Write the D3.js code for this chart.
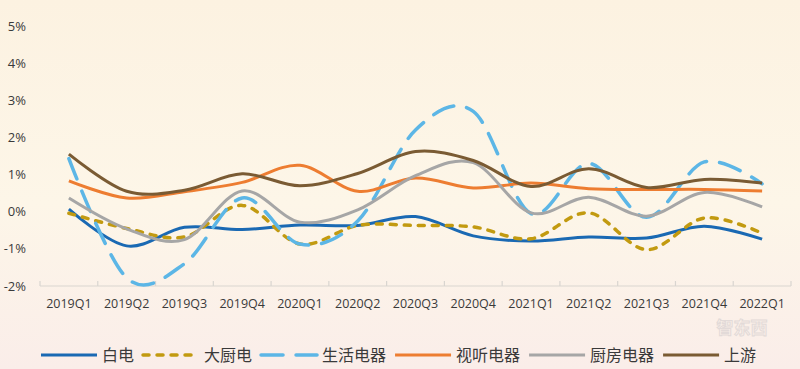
<!DOCTYPE html>
<html>
<head>
<meta charset="utf-8">
<script src="https://cdn.jsdelivr.net/npm/d3@7"></script>
<style>
    html, body { margin: 0; padding: 0; }
    svg { display: block; }
</style>
</head>
<body>
<svg id="chart" width="800" height="369"></svg>
<script>
const quarters = ["2019Q1", "2019Q2", "2019Q3", "2019Q4", "2020Q1", "2020Q2", "2020Q3",
    "2020Q4", "2021Q1", "2021Q2", "2021Q3", "2021Q4", "2022Q1"];

// values in %
const baidian = [0.07, -0.92, -0.42, -0.48, -0.36, -0.37, -0.13, -0.65, -0.79, -0.68, -0.71, -0.39, -0.74];
const dachudian = [-0.04, -0.45, -0.68, 0.17, -0.87, -0.37, -0.37, -0.41, -0.73, -0.03, -1.02, -0.17, -0.58];
const shenghuo = [1.43, -1.78, -1.4, 0.37, -0.87, -0.25, 2.2, 2.7, -0.05, 1.3, -0.15, 1.34, 0.75];
const shiting = [0.83, 0.37, 0.54, 0.79, 1.25, 0.55, 0.91, 0.64, 0.77, 0.62, 0.6, 0.6, 0.56];
const chufang = [0.37, -0.46, -0.75, 0.56, -0.28, 0.05, 0.97, 1.32, -0.03, 0.39, -0.12, 0.52, 0.13];
const shangyou = [1.55, 0.55, 0.58, 1.02, 0.7, 1.03, 1.62, 1.38, 0.68, 1.16, 0.65, 0.87, 0.77];

const seriesNames = ["白电", "大厨电", "生活电器", "视听电器", "厨房电器", "上游"];
const yTicks = [-2, -1, 0, 1, 2, 3, 4, 5];

const styles = [
    { color: "#1a69b3", width: 3, dash: null },
    { color: "#c29a10", width: 3.5, dash: "6,8" },
    { color: "#5cb6e6", width: 3.5, dash: "22,13" },
    { color: "#ed7d31", width: 3, dash: null },
    { color: "#a6a6a6", width: 3, dash: null },
    { color: "#7a5b33", width: 3, dash: null }
];

const allSeries = [baidian, dachudian, shenghuo, shiting, chufang, shangyou];

const svg = d3.select("#chart");

// background
const defs = svg.append("defs");
const grad = defs.append("linearGradient")
    .attr("id", "bg")
    .attr("x1", 0).attr("y1", 0).attr("x2", 0).attr("y2", 1);
grad.append("stop").attr("offset", "0%").attr("stop-color", "#fcf2e1");
grad.append("stop").attr("offset", "55%").attr("stop-color", "#fdf6e8");
grad.append("stop").attr("offset", "100%").attr("stop-color", "#faede9");
svg.append("rect").attr("width", 800).attr("height", 369).attr("fill", "url(#bg)");

const x = d3.scaleBand()
    .domain(quarters)
    .range([40, 791]);

const y = d3.scaleLinear()
    .domain([-2, 5])
    .range([286, 26]);

// x axis
const xAxis = svg.append("g")
    .attr("transform", `translate(0,${y(-2)})`);
xAxis.append("line")
    .attr("x1", x.range()[0]).attr("x2", x.range()[1])
    .attr("stroke", "#d9d5d0").attr("stroke-width", 1.2);
xAxis.selectAll(".tick")
    .data(quarters.concat(["end"]))
    .enter()
    .append("line")
    .attr("x1", (d, i) => x.range()[0] + i * x.bandwidth())
    .attr("x2", (d, i) => x.range()[0] + i * x.bandwidth())
    .attr("y1", 0).attr("y2", -5)
    .attr("stroke", "#d9d5d0").attr("stroke-width", 1.2);
xAxis.selectAll(".lab")
    .data(quarters)
    .enter()
    .append("text")
    .attr("x", (d) => x(d) + x.bandwidth() / 2)
    .attr("y", 22)
    .attr("text-anchor", "middle")
    .attr("font-family", "Open Sans, sans-serif")
    .attr("font-size", "12.5px")
    .attr("fill", "#3a3a3a")
    .text((d) => d);

// y labels
svg.append("g").selectAll("text")
    .data(yTicks)
    .enter()
    .append("text")
    .attr("x", 26)
    .attr("y", (d) => y(d))
    .attr("dy", "0.35em")
    .attr("text-anchor", "end")
    .attr("font-family", "Open Sans, sans-serif")
    .attr("font-size", "13px")
    .attr("fill", "#3a3a3a")
    .text((d) => d + "%");

// lines
const line = d3.line()
    .x((d, i) => x(quarters[i]) + x.bandwidth() / 2)
    .y((d) => y(d))
    .curve(d3.curveCardinal.tension(0));

const chart = svg.append("g");
allSeries.forEach((values, k) => {
    const st = styles[k];
    chart.append("path")
        .datum(values)
        .attr("d", line)
        .attr("fill", "none")
        .attr("stroke", st.color)
        .attr("stroke-width", st.width)
        .attr("stroke-linecap", st.dash ? "round" : "butt")
        .attr("stroke-dasharray", st.dash);
});

// watermark
svg.append("text")
    .attr("x", 742).attr("y", 334)
    .attr("text-anchor", "middle")
    .attr("font-family", "Noto Sans CJK SC, sans-serif")
    .attr("font-size", "17px")
    .attr("font-weight", "bold")
    .attr("fill", "none")
    .attr("stroke", "#e2dad8")
    .attr("stroke-width", 1)
    .text("智东西");

// legend
const legend = svg.append("g").attr("transform", "translate(0,355)");
let lx = 41;
seriesNames.forEach((name, k) => {
    const st = styles[k];
    const item = legend.append("g");
    item.append("line")
        .attr("x1", lx).attr("x2", lx + 56)
        .attr("y1", 0).attr("y2", 0)
        .attr("stroke", st.color)
        .attr("stroke-width", st.width)
        .attr("stroke-linecap", st.dash ? "round" : "butt")
        .attr("stroke-dasharray", st.dash);
    const t = item.append("text")
        .attr("x", lx + 61)
        .attr("y", 0)
        .attr("dy", "0.36em")
        .attr("font-family", "Noto Sans CJK SC, sans-serif")
        .attr("font-size", "16px")
        .attr("fill", "#3a3a3a")
        .text(name);
    lx += 61 + t.node().getComputedTextLength() + 9;
});
</script>
</body>
</html>
